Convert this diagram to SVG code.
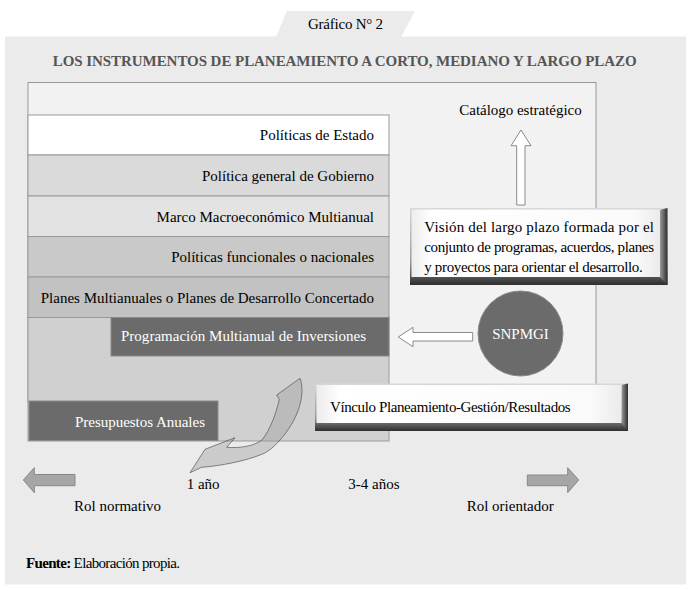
<svg xmlns="http://www.w3.org/2000/svg" width="691" height="591" viewBox="0 0 691 591">
<style>
text{font-family:"Liberation Serif","Times New Roman",serif;font-size:15px;fill:#000}
.w{fill:#fff}
.t{font-weight:bold;fill:#555}
.bar{stroke:#9a9a9a;stroke-width:1}
.dark{fill:#6b6b6b;stroke:#8a8a8a;stroke-width:1}
.ga{fill:#a6a6a6;stroke:#888;stroke-width:1}
.oa{fill:#fff;stroke:#8a8a8a;stroke-width:1}
</style>
<defs>
<linearGradient id="bev" x1="0" y1="0" x2="0" y2="1">
<stop offset="0" stop-color="#d8d8d8"/>
<stop offset="0.7" stop-color="#9a9a9a"/>
<stop offset="1" stop-color="#2e2e2e"/>
</linearGradient>
<linearGradient id="bevR" x1="0" y1="0" x2="1" y2="0">
<stop offset="0" stop-color="#9a9a9a"/>
<stop offset="1" stop-color="#2e2e2e"/>
</linearGradient>
<linearGradient id="face" x1="0" y1="0" x2="1" y2="0">
<stop offset="0" stop-color="#ececec"/>
<stop offset="0.08" stop-color="#ffffff"/>
<stop offset="0.9" stop-color="#fafafa"/>
<stop offset="1" stop-color="#ebebeb"/>
</linearGradient>
</defs>

<g id="panel">
<polygon points="276,37 287,11 415,11 401,37" fill="#ebebeb"/>
<rect x="5" y="36.5" width="681" height="548" fill="#ebebeb"/>
<text x="308" y="29" textLength="75">Gráfico N° 2</text>
<text class="t" x="52.7" y="66" textLength="584">LOS INSTRUMENTOS DE PLANEAMIENTO A CORTO, MEDIANO Y LARGO PLAZO</text>
</g>

<g id="main-box">
<rect x="28" y="82.5" width="568" height="320" fill="#f2f2f2" stroke="#999"/>
</g>

<g id="catalogo">
<text x="459.3" y="115" textLength="122.4">Catálogo estratégico</text>
</g>

<g id="stack">
<rect class="bar" x="28" y="317" width="361" height="124" fill="#d0d0d0"/>
<rect class="bar" x="28" y="115" width="361" height="40" fill="#ffffff"/>
<rect class="bar" x="28" y="155" width="361" height="41" fill="#dadada"/>
<rect class="bar" x="28" y="196" width="361" height="40.5" fill="#e3e3e3"/>
<rect class="bar" x="28" y="236.5" width="361" height="40.5" fill="#c9c9c9"/>
<rect class="bar" x="28" y="277" width="361" height="40.5" fill="#c2c2c2"/>
</g>
<g id="politicas-estado"><text x="374" y="140" text-anchor="end">Políticas de Estado</text></g>
<g id="politica-gobierno"><text x="374" y="181" text-anchor="end">Política general de Gobierno</text></g>
<g id="marco"><text x="374" y="221.5" text-anchor="end">Marco Macroeconómico Multianual</text></g>
<g id="politicas-funcionales"><text x="374" y="262" text-anchor="end">Políticas funcionales o nacionales</text></g>
<g id="planes"><text x="374" y="302.5" text-anchor="end">Planes Multianuales o Planes de Desarrollo Concertado</text></g>
<g id="programacion">
<rect class="dark" x="111" y="317.5" width="278" height="38.5"/>
<text class="w" x="121" y="341" textLength="245">Programación Multianual de Inversiones</text>
</g>
<g id="presupuestos">
<rect class="dark" x="29" y="401" width="189" height="39.5"/>
<text class="w" x="75" y="427" textLength="130">Presupuestos Anuales</text>
</g>

<g id="snpmgi">
<circle class="dark" cx="520.5" cy="333.5" r="42.5" stroke-width="1.5"/>
<text class="w" x="520.5" y="338.5" text-anchor="middle">SNPMGI</text>
</g>

<g id="vision">
<rect x="410" y="208" width="257.5" height="77" fill="url(#bev)"/>
<polygon points="660,210 667.5,208 667.5,285 660,277" fill="url(#bevR)"/>
<rect x="411.5" y="209.5" width="248.5" height="67.5" fill="url(#face)"/>
<text font-size="14" x="424.3" y="231.7" textLength="229.7" lengthAdjust="spacing">Visión del largo plazo formada por el</text>
<text font-size="14" x="424.3" y="251.7" textLength="229.7" lengthAdjust="spacing">conjunto de programas, acuerdos, planes</text>
<text font-size="14" x="424.3" y="271.7" textLength="218.4" lengthAdjust="spacing">y proyectos para orientar el desarrollo.</text>
</g>

<g id="vinculo">
<rect x="315" y="383.5" width="313" height="47.5" fill="url(#bev)"/>
<polygon points="621.5,385 628,383.5 628,431 621.5,423" fill="url(#bevR)"/>
<rect x="316.5" y="385" width="305" height="38" fill="url(#face)"/>
<text font-size="14" x="330" y="411.7" textLength="240.7">Vínculo Planeamiento-Gestión/Resultados</text>
</g>

<g id="connectors">
<polygon class="oa" points="521,130 531,145.7 525,145.7 525,205 516.7,205 516.7,145.7 511,145.7"/>
<polygon class="oa" points="398.3,337 413,327.3 413,332.5 472.7,332.5 472.7,341 413,341 413,346.7"/>
<path d="M300,378.3 C306,395 298,420 280,440 C272,449 266,453 260,455 C245,461 220,466 201.7,467.3 L190,472.7 L205,449.3 L235,437.7 L226.7,447.3 C240,448.5 254,446 262,440 C270,430 276,414 279.3,399.3 L276.7,395 Z" fill="#999" fill-opacity="0.38" stroke="#555" stroke-width="0.7"/>
<polygon class="ga" points="23.3,480 34.3,467.7 34.3,474.5 75,474.5 75,485.7 34.3,485.7 34.3,492.7"/>
<polygon class="ga" points="578.7,480 567.7,467.7 567.7,475 527.3,475 527.3,485.7 567.7,485.7 567.7,492.7"/>
</g>

<g id="labels">
<text x="186.7" y="489.3">1 año</text>
<text x="348.3" y="489.3">3-4 años</text>
<text x="74" y="511">Rol normativo</text>
<text x="466.7" y="511">Rol orientador</text>
<text x="26" y="568.3" font-size="14" textLength="154"><tspan font-weight="bold">Fuente:</tspan> Elaboración propia.</text>
</g>
</svg>
